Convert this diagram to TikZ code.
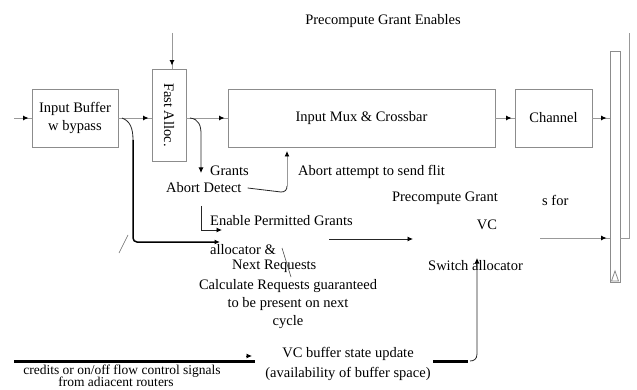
\documentclass[tikz,border=0pt]{standalone}
\usepackage{fontspec}
\usepackage{graphicx}
\setmainfont{Liberation Serif}
\usetikzlibrary{arrows.meta,decorations.markings}
\newcommand{\dgfont}{\fontsize{14.5}{18}\selectfont}
\newcommand{\smfont}{\fontsize{13.5}{13}\selectfont}
\begin{document}
\begin{tikzpicture}[x=1pt,y=-1pt,
  >={Latex[length=5.5pt,width=5pt,color=black]},
  box/.style={draw=black!45,line width=0.9pt,inner sep=0pt,font=\dgfont},
  conn/.style={draw=black!40,line width=0.9pt},
  dark/.style={draw=black!85,line width=0.8pt},
  heavy/.style={draw=black,line width=1.5pt},
  bar/.style={draw=black,line width=3pt},
  midarrow/.style={postaction={decorate},decoration={markings,mark=at position -3pt with {\arrow{>}}}},
  lbl/.style={inner sep=0pt,font=\dgfont,text height=11pt,text depth=2pt},
  mlbl/.style={inner sep=0pt,font=\dgfont,align=center}
]
\useasboundingbox (0,0) rectangle (637,390);

% boxes
\node[box,minimum width=86pt,minimum height=58pt,align=center] (buf) at (75,118) {Input Buffer\\w bypass};
\node[box,minimum width=34pt,minimum height=92pt] (fast) at (169,115) {\rotatebox{-90}{Fast Alloc.}};
\node[box,minimum width=267pt,minimum height=58pt] (mux) at (361.5,118) {Input Mux \& Crossbar};
\node[box,minimum width=77pt,minimum height=58pt] (chan) at (553.5,118) {Channel};
\node[box,minimum width=10pt,minimum height=231pt] (tall) at (615,166.5) {};
\draw[black!45,line width=0.8pt] (611.5,281) -- (615,271) -- (618.5,281) -- cycle;

% labels
\node[lbl] (pge) at (383,20) {Precompute Grant Enables};
\node[lbl,anchor=west] (grants) at (210,171) {Grants};
\node[lbl,anchor=west] (abd) at (166,188) {Abort Detect};
\node[lbl,anchor=west] (abort) at (298,171) {Abort attempt to send flit};
\node[lbl] (pg) at (445,197) {Precompute Grant};
\node[lbl,anchor=west] (sfor) at (542,201) {s for};
\node[lbl] (vc) at (487,225) {VC};
\node[lbl,anchor=west] (sw) at (428,266) {Switch allocator};
\node[lbl,anchor=west] (epg) at (210,221) {Enable Permitted Grants};
\node[lbl,anchor=west] (alloc) at (210,250) {allocator \&};
\node[lbl,anchor=west] (next) at (232,265) {Next Requests};
\node[mlbl,font=\fontsize{14.5}{18}\selectfont] (calc) at (288,304) {Calculate Requests guaranteed\\to be present on next\\cycle};
\node[mlbl,font=\fontsize{14.5}{20}\selectfont] (vcb) at (348,364) {VC buffer state update\\(availability of buffer space)};
\node[inner sep=0pt,font=\smfont,anchor=base] (cred1) at (122,374) {credits or on/off flow control signals};
\node[inner sep=0pt,font=\smfont,anchor=base] (cred2) at (116,386.5) {from adiacent routers};

% coordinates
\coordinate (in0) at (14,118);
\coordinate (topin) at (172,33);
\coordinate (g0) at (190,118);
\coordinate (b0) at (122,118);
\coordinate (abup) at (287,151);
\coordinate (e0) at (201,206);
\coordinate (p0) at (329,239);
\coordinate (p1) at (413,239);
\coordinate (r0) at (540,238);
\coordinate (rtop) at (629,33);
\coordinate (u0) at (470,361);
\coordinate (utop) at (477,258);

% main data path
\draw[conn,midarrow] (in0) -- (buf.west);
\draw[conn,midarrow] (buf.east) -- (buf.east -| fast.west);
\draw[conn,midarrow] (fast.east |- mux.west) -- (mux.west);
\draw[conn,midarrow] (mux.east) -- (chan.west);
\draw[conn,midarrow] (chan.east) -- (chan.east -| tall.west);
\draw[conn,midarrow] (topin) -- (topin |- fast.north);

% grants
\draw[dark,->] (g0) .. controls (199,119) and (201,126) .. (201,134) -- (201,173);
% bypass
\draw[dark] (b0) .. controls (130,121) and (133,128) .. (133,140);
\draw[heavy,rounded corners=4pt,->] (133,140) -- (133,242) -- (alloc.west |- 0,242) -- ([xshift=10pt]alloc.west |- 0,242);
% abort detect
\draw[dark] ([xshift=6pt]abd.east) -- (281,192) .. controls (285,192) and (287,190) .. (287,186);
\draw[conn,->] (287,186) -- (abup);
% enable permitted
\draw[dark,->] (e0) -- (201,230) -- (222,230);
\draw[dark,->] (p0) -- (p1);
% right loop
\draw[conn,midarrow] (r0) -- (r0 -| tall.west);
\draw[conn] (tall.east |- r0) -- (rtop |- r0) -- (rtop);
% buffer update
\draw[dark,->] (u0) .. controls (474,361) and (477,359) .. (477,354) -- (utop);
% slanted ticks
\draw[black!60,line width=0.6pt] (128,235) -- (119,253);
\draw[black!70,line width=0.6pt] (282,248) -- (291,277);

% credits bars
\draw[bar] (14,361) -- (255,361);
\draw[dark,->] (246,356) -- (252,356);
\draw[bar] (433,361) -- (468,361);
\end{tikzpicture}
\end{document}
